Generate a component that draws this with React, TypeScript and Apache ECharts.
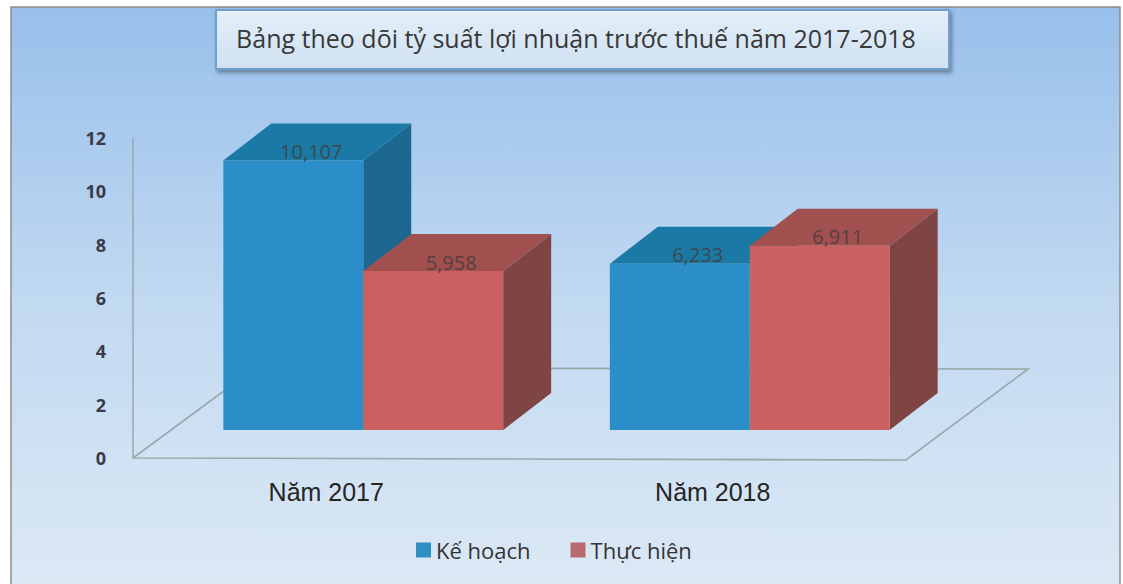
import React, { useEffect, useRef } from "react";
import * as echarts from "echarts";

const TITLE = "Bảng theo dõi tỷ suất lợi nhuận trước thuế năm 2017-2018";
const categories = ["Năm 2017", "Năm 2018"];
const seriesNames = ["Kế hoạch", "Thực hiện"];
const planValues = [10.107, 6.233];
const actualValues = [5.958, 6.911];
const yMin = 0;
const yMax = 12;
const yInterval = 2;

const BLUE = { front: "#2b8ec8", top: "#1a7aa5", side: "#1c6890", legend: "#2f8fc2" };
const RED = { front: "#c8615f", top: "#a0504f", side: "#7f4545", legend: "#b96a6c" };

const DX = 48;
const DY = -37;
const LIFT = 28;

function fmt(v: number) {
  return v.toFixed(3).replace(".", ",");
}

function makeBox(sideIdx: number, col: { front: string; top: string; side: string }) {
  return (params: any, api: any) => {
    const cat = api.value(0);
    const v = api.value(1);
    const c = api.coord([cat, v]);
    const c0 = api.coord([cat, 0]);
    const band = api.size([1, 0])[0];
    const bw = band * 0.362;
    const x0 = sideIdx === 0 ? c[0] - bw : c[0];
    const x1 = x0 + bw;
    const yTop = c[1] - LIFT;
    const yBot = c0[1] - LIFT;
    return {
      type: "group",
      children: [
        {
          type: "polygon",
          shape: { points: [[x1, yBot], [x1 + DX, yBot + DY], [x1 + DX, yTop + DY], [x1, yTop]] },
          style: { fill: col.side },
        },
        {
          type: "polygon",
          shape: { points: [[x0, yTop], [x0 + DX, yTop + DY], [x1 + DX, yTop + DY], [x1, yTop]] },
          style: { fill: col.top },
        },
        {
          type: "rect",
          shape: { x: x0, y: yTop, width: bw, height: yBot - yTop },
          style: { fill: col.front },
        },
        {
          type: "text",
          x: x0 + bw / 2 + 18,
          y: yTop - 9,
          style: {
            text: fmt(v),
            fill: "rgba(70,58,58,0.82)",
            font: "20px 'Open Sans'",
            align: "center",
            verticalAlign: "middle",
          },
        },
      ],
    };
  };
}

export default function App() {
  const ref = useRef<HTMLDivElement>(null);
  useEffect(() => {
    document.body.style.margin = "0";
    const chart = echarts.init(ref.current!, undefined, { renderer: "svg" });
    const option: any = {
      animation: false,
      backgroundColor: "#ffffff",
      graphic: [
        {
          type: "rect",
          z: -10,
          shape: { x: 11, y: 7, width: 1109, height: 590 },
          style: {
            fill: new echarts.graphic.LinearGradient(0, 0, 0, 1, [
              { offset: 0, color: "#98c0eb" },
              { offset: 0.5, color: "#c1d9f1" },
              { offset: 1, color: "#dde9f5" },
            ]),
            stroke: "#8c8c8c",
            lineWidth: 1.5,
          },
        },
        {
          type: "rect",
          z: 5,
          shape: { x: 216, y: 10, width: 733, height: 59 },
          style: {
            fill: new echarts.graphic.LinearGradient(0, 0, 0, 1, [
              { offset: 0, color: "#e4eff9" },
              { offset: 1, color: "#cfe1f3" },
            ]),
            stroke: "#6f9fd0",
            lineWidth: 2,
            shadowBlur: 4,
            shadowOffsetX: 2,
            shadowOffsetY: 3,
            shadowColor: "rgba(0,0,0,0.35)",
          },
        },
        {
          type: "text",
          z: 6,
          x: 576,
          y: 38,
          style: {
            text: TITLE,
            fill: "#383838",
            font: "500 25px 'Open Sans'",
            align: "center",
            verticalAlign: "middle",
          },
        },
      ],
      grid: { left: 170, right: 180, top: 138, bottom: 126 },
      legend: {
        data: seriesNames,
        left: 411,
        top: 534,
        icon: "rect",
        itemWidth: 15,
        itemHeight: 15,
        itemGap: 40,
        textStyle: { fontFamily: "Open Sans", fontSize: 22, color: "#333" },
      },
      xAxis: {
        type: "category",
        data: categories,
        axisLine: { show: false },
        axisTick: { show: false },
        axisLabel: {
          margin: 21,
          fontFamily: "Liberation Sans",
          fontSize: 25,
          color: "#252525",
          padding: [0, 74, 0, 0],
        },
      },
      yAxis: {
        type: "value",
        min: yMin,
        max: yMax,
        interval: yInterval,
        offset: 37,
        splitLine: { show: false },
        axisLine: { show: true, lineStyle: { color: "#9ea6a6", width: 1.5 } },
        axisTick: { show: false },
        axisLabel: {
          margin: 27,
          fontFamily: "Open Sans",
          fontWeight: "bold",
          fontSize: 18,
          color: "#3a3a48",
        },
      },
      series: [
        {
          type: "custom",
          name: "floor",
          z: 1,
          silent: true,
          data: [[0, 0]],
          renderItem: (params: any, api: any) => {
            const c0 = api.coord([0, 0]);
            const band = api.size([1, 0])[0];
            const left = c0[0] - band / 2;
            const right = left + band * categories.length;
            const fl = left - 37;
            const fr = right - 37;
            const y0 = c0[1];
            return {
              type: "polyline",
              shape: {
                points: [[fl, y0], [fr, y0 + 2], [fr + 122, y0 - 89], [fl + 122, y0 - 90], [fl, y0]],
              },
              style: { stroke: "#98a8a8", lineWidth: 1.6, fill: "none" },
            };
          },
        },
        {
          type: "custom",
          name: seriesNames[0],
          z: 2,
          itemStyle: { color: BLUE.legend },
          data: planValues.map((v, i) => [i, v]),
          renderItem: makeBox(0, BLUE),
        },
        {
          type: "custom",
          name: seriesNames[1],
          z: 3,
          itemStyle: { color: RED.legend },
          data: actualValues.map((v, i) => [i, v]),
          renderItem: makeBox(1, RED),
        },
      ],
    };
    chart.setOption(option);
    return () => chart.dispose();
  }, []);
  return <div ref={ref} style={{ width: 1123, height: 584 }} />;
}
